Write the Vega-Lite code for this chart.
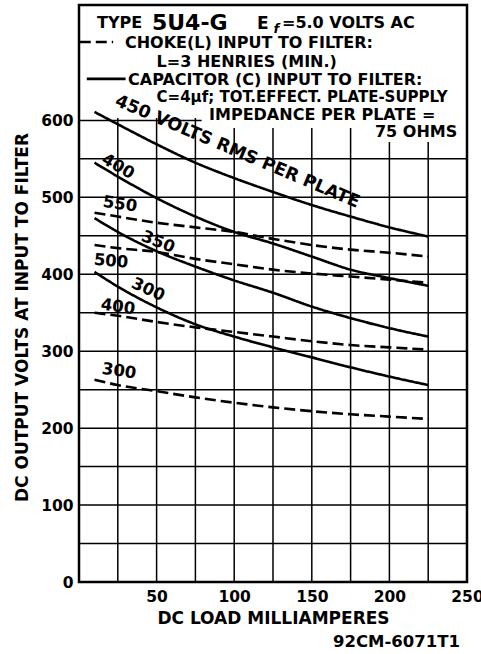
{
  "$schema": "https://vega.github.io/schema/vega-lite/v6.json",
  "width": 388,
  "height": 577,
  "autosize": {"type": "none"},
  "padding": {"left": 79, "top": 5, "right": 14, "bottom": 72},
  "background": "white",
  "config": {
    "view": {"stroke": "black", "strokeWidth": 2.5},
    "font": "DejaVu Sans",
    "axis": {
      "grid": false, "domain": false, "ticks": false,
      "labelFont": "DejaVu Sans", "labelFontWeight": "bold", "labelFontSize": 15.5, "labelColor": "black",
      "titleFont": "DejaVu Sans", "titleFontWeight": "bold", "titleFontSize": 17, "titleColor": "black"
    }
  },
  "title": {"text": "92CM-6071T1", "orient": "bottom", "anchor": "end", "frame": "group", "dx": -7, "fontSize": 16.5, "fontWeight": "bold", "font": "DejaVu Sans", "color": "black", "offset": 7},
  "resolve": {"axis": {"x": "independent", "y": "independent"}},
  "datasets": {
    "curves": [
      {"s": "C450", "f": "capacitor", "mA": 10, "V": 611}, {"s": "C450", "f": "capacitor", "mA": 25, "V": 595}, {"s": "C450", "f": "capacitor", "mA": 50, "V": 569}, {"s": "C450", "f": "capacitor", "mA": 75, "V": 545}, {"s": "C450", "f": "capacitor", "mA": 100, "V": 525}, {"s": "C450", "f": "capacitor", "mA": 125, "V": 507}, {"s": "C450", "f": "capacitor", "mA": 150, "V": 490}, {"s": "C450", "f": "capacitor", "mA": 175, "V": 475}, {"s": "C450", "f": "capacitor", "mA": 200, "V": 461}, {"s": "C450", "f": "capacitor", "mA": 225, "V": 449},
      {"s": "C400", "f": "capacitor", "mA": 10, "V": 545}, {"s": "C400", "f": "capacitor", "mA": 25, "V": 527}, {"s": "C400", "f": "capacitor", "mA": 50, "V": 499}, {"s": "C400", "f": "capacitor", "mA": 75, "V": 475}, {"s": "C400", "f": "capacitor", "mA": 100, "V": 455}, {"s": "C400", "f": "capacitor", "mA": 125, "V": 440}, {"s": "C400", "f": "capacitor", "mA": 150, "V": 423}, {"s": "C400", "f": "capacitor", "mA": 175, "V": 406}, {"s": "C400", "f": "capacitor", "mA": 200, "V": 395}, {"s": "C400", "f": "capacitor", "mA": 225, "V": 385},
      {"s": "C350", "f": "capacitor", "mA": 10, "V": 473}, {"s": "C350", "f": "capacitor", "mA": 25, "V": 455}, {"s": "C350", "f": "capacitor", "mA": 50, "V": 430}, {"s": "C350", "f": "capacitor", "mA": 75, "V": 410}, {"s": "C350", "f": "capacitor", "mA": 100, "V": 392}, {"s": "C350", "f": "capacitor", "mA": 125, "V": 376}, {"s": "C350", "f": "capacitor", "mA": 150, "V": 358}, {"s": "C350", "f": "capacitor", "mA": 175, "V": 343}, {"s": "C350", "f": "capacitor", "mA": 200, "V": 330}, {"s": "C350", "f": "capacitor", "mA": 225, "V": 319},
      {"s": "C300", "f": "capacitor", "mA": 10, "V": 403}, {"s": "C300", "f": "capacitor", "mA": 25, "V": 384}, {"s": "C300", "f": "capacitor", "mA": 50, "V": 357}, {"s": "C300", "f": "capacitor", "mA": 75, "V": 335}, {"s": "C300", "f": "capacitor", "mA": 100, "V": 319}, {"s": "C300", "f": "capacitor", "mA": 125, "V": 305}, {"s": "C300", "f": "capacitor", "mA": 150, "V": 292}, {"s": "C300", "f": "capacitor", "mA": 175, "V": 279}, {"s": "C300", "f": "capacitor", "mA": 200, "V": 267}, {"s": "C300", "f": "capacitor", "mA": 225, "V": 256},
      {"s": "L550", "f": "choke", "mA": 10, "V": 480}, {"s": "L550", "f": "choke", "mA": 25, "V": 475}, {"s": "L550", "f": "choke", "mA": 50, "V": 467}, {"s": "L550", "f": "choke", "mA": 75, "V": 461}, {"s": "L550", "f": "choke", "mA": 100, "V": 455}, {"s": "L550", "f": "choke", "mA": 125, "V": 446}, {"s": "L550", "f": "choke", "mA": 150, "V": 438}, {"s": "L550", "f": "choke", "mA": 175, "V": 432}, {"s": "L550", "f": "choke", "mA": 200, "V": 428}, {"s": "L550", "f": "choke", "mA": 225, "V": 423},
      {"s": "L500", "f": "choke", "mA": 10, "V": 438}, {"s": "L500", "f": "choke", "mA": 25, "V": 434}, {"s": "L500", "f": "choke", "mA": 50, "V": 429}, {"s": "L500", "f": "choke", "mA": 75, "V": 420}, {"s": "L500", "f": "choke", "mA": 100, "V": 413}, {"s": "L500", "f": "choke", "mA": 125, "V": 406}, {"s": "L500", "f": "choke", "mA": 150, "V": 401}, {"s": "L500", "f": "choke", "mA": 175, "V": 397}, {"s": "L500", "f": "choke", "mA": 200, "V": 393}, {"s": "L500", "f": "choke", "mA": 225, "V": 389},
      {"s": "L400", "f": "choke", "mA": 10, "V": 350}, {"s": "L400", "f": "choke", "mA": 25, "V": 346}, {"s": "L400", "f": "choke", "mA": 50, "V": 338}, {"s": "L400", "f": "choke", "mA": 75, "V": 331}, {"s": "L400", "f": "choke", "mA": 100, "V": 325}, {"s": "L400", "f": "choke", "mA": 125, "V": 319}, {"s": "L400", "f": "choke", "mA": 150, "V": 313}, {"s": "L400", "f": "choke", "mA": 175, "V": 308}, {"s": "L400", "f": "choke", "mA": 200, "V": 305}, {"s": "L400", "f": "choke", "mA": 225, "V": 302},
      {"s": "L300", "f": "choke", "mA": 10, "V": 263}, {"s": "L300", "f": "choke", "mA": 25, "V": 256}, {"s": "L300", "f": "choke", "mA": 50, "V": 248}, {"s": "L300", "f": "choke", "mA": 75, "V": 240}, {"s": "L300", "f": "choke", "mA": 100, "V": 233}, {"s": "L300", "f": "choke", "mA": 125, "V": 227}, {"s": "L300", "f": "choke", "mA": 150, "V": 222}, {"s": "L300", "f": "choke", "mA": 175, "V": 218}, {"s": "L300", "f": "choke", "mA": 200, "V": 215}, {"s": "L300", "f": "choke", "mA": 225, "V": 212}
    ]
  },
  "layer": [
    {
      "data": {"values": [
        {"mA": 25, "bottom": 0, "top": 603}, {"mA": 50, "bottom": 0, "top": 603}, {"mA": 75, "bottom": 0, "top": 603},
        {"mA": 100, "bottom": 0, "top": 590}, {"mA": 125, "bottom": 0, "top": 590}, {"mA": 150, "bottom": 0, "top": 590}, {"mA": 175, "bottom": 0, "top": 590},
        {"mA": 200, "bottom": 0, "top": 572}, {"mA": 225, "bottom": 0, "top": 572}
      ]},
      "mark": {"type": "rule", "strokeWidth": 1.5, "color": "black"},
      "encoding": {
        "x": {"field": "mA", "type": "quantitative", "scale": {"domain": [0, 250], "nice": false},
          "axis": {"title": "DC LOAD MILLIAMPERES", "values": [50, 100, 150, 200, 250],
            "labelPadding": 7, "titlePadding": 6, "labelFlush": false, "labelOverlap": false}},
        "y": {"field": "bottom", "type": "quantitative", "scale": {"domain": [0, 750], "nice": false},
          "axis": {"title": "DC OUTPUT VOLTS AT INPUT TO FILTER", "values": [0, 100, 200, 300, 400, 500, 600],
            "labelPadding": 6, "titlePadding": 9, "labelOverlap": false, "titleY": 312}},
        "y2": {"field": "top"}
      }
    },
    {
      "data": {"values": [
        {"V": 50, "left": 0, "right": 250}, {"V": 100, "left": 0, "right": 250}, {"V": 150, "left": 0, "right": 250}, {"V": 200, "left": 0, "right": 250},
        {"V": 250, "left": 0, "right": 250}, {"V": 300, "left": 0, "right": 250}, {"V": 350, "left": 0, "right": 250}, {"V": 400, "left": 0, "right": 250},
        {"V": 450, "left": 0, "right": 250}, {"V": 500, "left": 0, "right": 250}, {"V": 550, "left": 0, "right": 250}, {"V": 600, "left": 0, "right": 79}
      ]},
      "mark": {"type": "rule", "strokeWidth": 1.5, "color": "black"},
      "encoding": {
        "y": {"field": "V", "type": "quantitative", "axis": null},
        "x": {"field": "left", "type": "quantitative", "axis": null},
        "x2": {"field": "right"}
      }
    },
    {
      "data": {"name": "curves"},
      "mark": {"type": "line", "strokeWidth": 2.6, "color": "black", "interpolate": "monotone"},
      "encoding": {
        "x": {"field": "mA", "type": "quantitative", "axis": null},
        "y": {"field": "V", "type": "quantitative", "axis": null},
        "detail": {"field": "s"},
        "strokeDash": {"field": "f", "type": "nominal", "scale": {"domain": ["capacitor", "choke"], "range": [[1, 0], [11, 5]]}, "legend": null}
      }
    },
    {
      "data": {"values": [
        {"x": 0.5, "x2": 22, "y": 702, "f": "choke"},
        {"x": 5, "x2": 30, "y": 654, "f": "capacitor"}
      ]},
      "mark": {"type": "rule", "strokeWidth": 2.6, "color": "black"},
      "encoding": {
        "x": {"field": "x", "type": "quantitative", "axis": null},
        "x2": {"field": "x2"},
        "y": {"field": "y", "type": "quantitative", "axis": null},
        "strokeDash": {"field": "f", "type": "nominal", "legend": null}
      }
    },
    {
      "data": {"values": [
        {"label": "TYPE", "x": 11.6, "y": 720},
        {"label": "=5.0 VOLTS AC", "x": 130.8, "y": 720},
        {"label": "CHOKE(L) INPUT TO FILTER:", "x": 29.6, "y": 694},
        {"label": "L=3 HENRIES (MIN.)", "x": 50, "y": 670},
        {"label": "CAPACITOR (C) INPUT TO FILTER:", "x": 31.6, "y": 646},
        {"label": "IMPEDANCE PER PLATE =", "x": 83.8, "y": 600},
        {"label": "75 OHMS", "x": 190.7, "y": 579}
      ]},
      "mark": {"type": "text", "align": "left", "baseline": "alphabetic", "fontSize": 16, "fontWeight": "bold", "color": "black"},
      "encoding": {
        "x": {"field": "x", "type": "quantitative", "axis": null},
        "y": {"field": "y", "type": "quantitative", "axis": null},
        "text": {"field": "label"}
      }
    },
    {
      "data": {"values": [{"label": "C=4µf; TOT.EFFECT. PLATE-SUPPLY", "x": 50, "y": 624}]},
      "mark": {"type": "text", "align": "left", "baseline": "alphabetic", "fontSize": 15, "fontWeight": "bold", "color": "black"},
      "encoding": {"x": {"field": "x", "type": "quantitative", "axis": null}, "y": {"field": "y", "type": "quantitative", "axis": null}, "text": {"field": "label"}}
    },
    {
      "data": {"values": [{"label": "5U4-G", "x": 47, "y": 718}]},
      "mark": {"type": "text", "align": "left", "baseline": "alphabetic", "fontSize": 22, "fontWeight": "bold", "color": "black"},
      "encoding": {"x": {"field": "x", "type": "quantitative", "axis": null}, "y": {"field": "y", "type": "quantitative", "axis": null}, "text": {"field": "label"}}
    },
    {
      "data": {"values": [{"label": "E", "x": 114.7, "y": 719}]},
      "mark": {"type": "text", "align": "left", "baseline": "alphabetic", "fontSize": 17, "fontWeight": "bold", "color": "black"},
      "encoding": {"x": {"field": "x", "type": "quantitative", "axis": null}, "y": {"field": "y", "type": "quantitative", "axis": null}, "text": {"field": "label"}}
    },
    {
      "data": {"values": [{"label": "f", "x": 125.3, "y": 714}]},
      "mark": {"type": "text", "align": "left", "baseline": "alphabetic", "fontSize": 13, "fontWeight": "bold", "fontStyle": "italic", "color": "black"},
      "encoding": {"x": {"field": "x", "type": "quantitative", "axis": null}, "y": {"field": "y", "type": "quantitative", "axis": null}, "text": {"field": "label"}}
    },
    {
      "data": {"values": [{"label": "450 VOLTS RMS PER PLATE", "x": 102, "y": 559}]},
      "mark": {"type": "text", "align": "center", "baseline": "middle", "fontSize": 17.5, "fontWeight": "bold", "angle": 23, "color": "black"},
      "encoding": {"x": {"field": "x", "type": "quantitative", "axis": null}, "y": {"field": "y", "type": "quantitative", "axis": null}, "text": {"field": "label"}}
    },
    {
      "data": {"values": [{"label": "400", "x": 25.1, "y": 540}]},
      "mark": {"type": "text", "align": "center", "baseline": "middle", "fontSize": 16.5, "fontWeight": "bold", "angle": 30, "color": "black"},
      "encoding": {"x": {"field": "x", "type": "quantitative", "axis": null}, "y": {"field": "y", "type": "quantitative", "axis": null}, "text": {"field": "label"}}
    },
    {
      "data": {"values": [{"label": "550", "x": 26.4, "y": 491}, {"label": "400", "x": 25.1, "y": 357.6}, {"label": "300", "x": 25.8, "y": 274}]},
      "mark": {"type": "text", "align": "center", "baseline": "middle", "fontSize": 16.5, "fontWeight": "bold", "angle": 8, "color": "black"},
      "encoding": {"x": {"field": "x", "type": "quantitative", "axis": null}, "y": {"field": "y", "type": "quantitative", "axis": null}, "text": {"field": "label"}}
    },
    {
      "data": {"values": [{"label": "500", "x": 20.6, "y": 417}]},
      "mark": {"type": "text", "align": "center", "baseline": "middle", "fontSize": 16.5, "fontWeight": "bold", "angle": 5, "color": "black"},
      "encoding": {"x": {"field": "x", "type": "quantitative", "axis": null}, "y": {"field": "y", "type": "quantitative", "axis": null}, "text": {"field": "label"}}
    },
    {
      "data": {"values": [{"label": "350", "x": 50.9, "y": 442}]},
      "mark": {"type": "text", "align": "center", "baseline": "middle", "fontSize": 16.5, "fontWeight": "bold", "angle": 22, "color": "black"},
      "encoding": {"x": {"field": "x", "type": "quantitative", "axis": null}, "y": {"field": "y", "type": "quantitative", "axis": null}, "text": {"field": "label"}}
    },
    {
      "data": {"values": [{"label": "300", "x": 44.5, "y": 380}]},
      "mark": {"type": "text", "align": "center", "baseline": "middle", "fontSize": 16.5, "fontWeight": "bold", "angle": 25, "color": "black"},
      "encoding": {"x": {"field": "x", "type": "quantitative", "axis": null}, "y": {"field": "y", "type": "quantitative", "axis": null}, "text": {"field": "label"}}
    }
  ]
}
